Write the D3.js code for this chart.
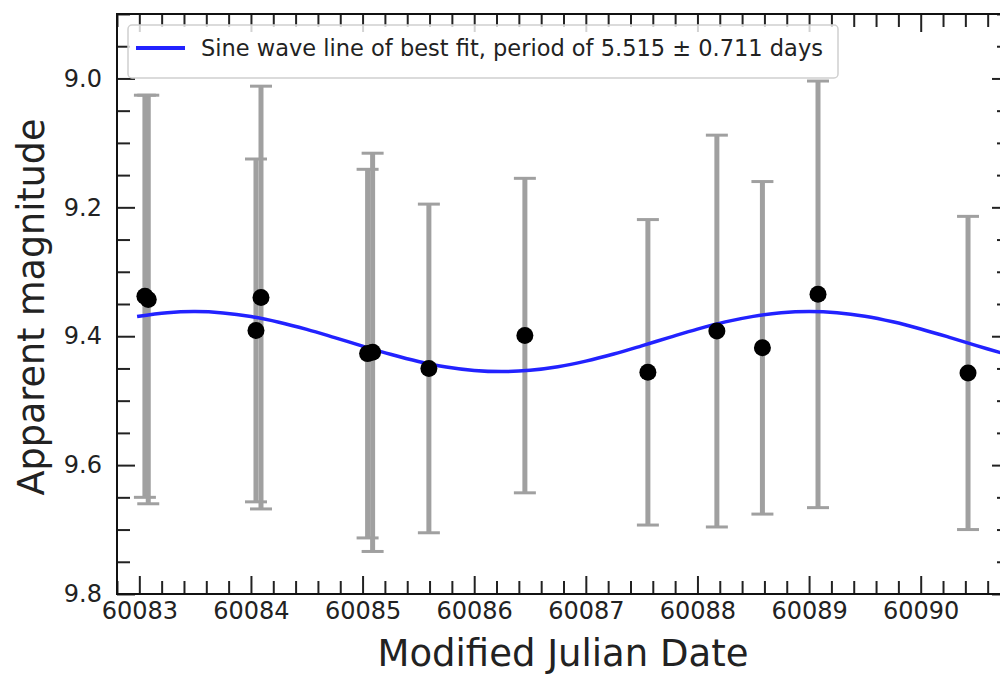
<!DOCTYPE html>
<html>
<head>
<meta charset="utf-8">
<script src="https://cdn.jsdelivr.net/npm/d3@7"></script>
<style>
  html, body { margin: 0; padding: 0; background: #fff; }
  svg { display: block; }
  text { font-family: "DejaVu Sans", sans-serif; }
</style>
</head>
<body>
<svg id="chart" width="1000" height="675"></svg>
<script>
// ---- data ----
const obsDate = [60083.050, 60083.080, 60084.045, 60084.090, 60085.045, 60085.090, 60085.594,
                 60086.454, 60087.556, 60088.174, 60088.582, 60089.080, 60090.424];
const obsMag  = [9.338, 9.343, 9.391, 9.340, 9.427, 9.425, 9.450,
                 9.399, 9.456, 9.392, 9.418, 9.335, 9.457];
const obsErr  = [0.312, 0.317, 0.266, 0.328, 0.286, 0.309, 0.255,
                 0.244, 0.237, 0.304, 0.258, 0.331, 0.243];

// best-fit sine curve
const fitDate = [60082.98, 60083.25, 60083.5, 60083.75, 60084.0, 60084.25, 60084.5, 60084.75,
                 60085.0, 60085.25, 60085.5, 60085.75, 60086.0, 60086.25, 60086.5, 60086.75,
                 60087.0, 60087.25, 60087.5, 60087.75, 60088.0, 60088.25, 60088.5, 60088.75,
                 60089.0, 60089.25, 60089.5, 60089.75, 60090.0, 60090.25, 60090.5, 60090.75];
const fitMag  = [9.3693, 9.3634, 9.3617, 9.3638, 9.3694, 9.3782, 9.3893, 9.4021,
                 9.4153, 9.4280, 9.4391, 9.4477, 9.4531, 9.4549, 9.4529, 9.4474,
                 9.4387, 9.4276, 9.4149, 9.4017, 9.3889, 9.3778, 9.3692, 9.3636,
                 9.3617, 9.3635, 9.3689, 9.3776, 9.3887, 9.4013, 9.4146, 9.4273];

const xTicks = [60083, 60084, 60085, 60086, 60087, 60088, 60089, 60090];
const yTicks = [9.0, 9.2, 9.4, 9.6, 9.8];
const xMinor = d3.range(60082.8, 60090.81, 0.2).map(v => +v.toFixed(1)).filter(v => !xTicks.includes(v));
const yMinor = d3.range(8.9, 9.801, 0.05).map(v => +v.toFixed(2)).filter(v => !yTicks.includes(v));

const legendLabel = "Sine wave line of best fit, period of 5.515 \u00B1 0.711 days";
const xTitle = "Modified Julian Date";
const yTitle = "Apparent magnitude";

// ---- layout ----
const L = 117, R = 1010, T = 14, B = 594;
const svg = d3.select("#chart");
svg.append("rect").attr("width", 1000).attr("height", 675).attr("fill", "#fff");

const x = d3.scaleLinear().domain([60082.8, 60090.8]).range([L, R]);
const y = d3.scaleLinear().domain([8.9, 9.8]).range([T, B]);

const MAJ = 18, MIN = 13, tickCol = "#222";

function styleAxis(g) {
  g.select(".domain").remove();
  g.selectAll(".tick line").attr("stroke", tickCol).attr("stroke-width", 2);
  g.selectAll(".tick text").attr("fill", "#222").style("font-size", "24px")
    .style("font-family", "'DejaVu Sans', sans-serif");
}

// bottom axis
svg.append("g").attr("transform", `translate(0,${B})`)
  .call(d3.axisBottom(x).tickValues(xTicks).tickFormat(d3.format("d")).tickSize(-MAJ).tickPadding(8))
  .call(styleAxis);
svg.append("g").attr("transform", `translate(0,${B})`)
  .call(d3.axisBottom(x).tickValues(xMinor).tickFormat("").tickSize(-MIN))
  .call(styleAxis);
// top axis
svg.append("g").attr("transform", `translate(0,${T})`)
  .call(d3.axisTop(x).tickValues(xTicks).tickFormat("").tickSize(-MAJ))
  .call(styleAxis);
svg.append("g").attr("transform", `translate(0,${T})`)
  .call(d3.axisTop(x).tickValues(xMinor).tickFormat("").tickSize(-MIN))
  .call(styleAxis);
// left axis
svg.append("g").attr("transform", `translate(${L},0)`)
  .call(d3.axisLeft(y).tickValues(yTicks).tickFormat(d3.format(".1f")).tickSize(-MAJ).tickPadding(15))
  .call(styleAxis);
svg.append("g").attr("transform", `translate(${L},0)`)
  .call(d3.axisLeft(y).tickValues(yMinor).tickFormat("").tickSize(-MIN))
  .call(styleAxis);
// right axis
svg.append("g").attr("transform", `translate(${R},0)`)
  .call(d3.axisRight(y).tickValues(yTicks).tickFormat("").tickSize(-MAJ))
  .call(styleAxis);
svg.append("g").attr("transform", `translate(${R},0)`)
  .call(d3.axisRight(y).tickValues(yMinor).tickFormat("").tickSize(-MIN))
  .call(styleAxis);

// clip
svg.append("clipPath").attr("id", "plotclip")
  .append("rect").attr("x", L).attr("y", T).attr("width", R - L).attr("height", B - T);
const plot = svg.append("g").attr("clip-path", "url(#plotclip)");

const obs = obsDate.map((d, i) => ({ d, m: obsMag[i], e: obsErr[i] }));

// error bars
const barCol = "#a0a0a0", capW = 11;
const eb = plot.append("g");
obs.forEach(o => {
  const cx = x(o.d), y0 = y(o.m - o.e), y1 = y(o.m + o.e);
  eb.append("line").attr("x1", cx).attr("x2", cx).attr("y1", y0).attr("y2", y1)
    .attr("stroke", barCol).attr("stroke-width", 5);
  [y0, y1].forEach(yy => eb.append("line").attr("x1", cx - capW).attr("x2", cx + capW)
    .attr("y1", yy).attr("y2", yy).attr("stroke", barCol).attr("stroke-width", 3));
});

// fit curve
const fit = fitDate.map((d, i) => ({ d, m: fitMag[i] }));
plot.append("path").datum(fit)
  .attr("d", d3.line().x(p => x(p.d)).y(p => y(p.m)).curve(d3.curveCatmullRom))
  .attr("fill", "none").attr("stroke", "#2222ff").attr("stroke-width", 3.5);

// points
plot.append("g").selectAll("circle").data(obs).join("circle")
  .attr("cx", o => x(o.d)).attr("cy", o => y(o.m)).attr("r", 8.5).attr("fill", "#000");

// spines
svg.append("rect").attr("x", L).attr("y", T).attr("width", R - L).attr("height", B - T)
  .attr("fill", "none").attr("stroke", "#111").attr("stroke-width", 2);

// legend
const lg = svg.append("g");
lg.append("rect").attr("x", 128).attr("y", 25).attr("width", 710).attr("height", 53).attr("rx", 4)
  .attr("fill", "#fff").attr("fill-opacity", 0.8).attr("stroke", "#d0d0d0").attr("stroke-width", 1.5);
lg.append("line").attr("x1", 136).attr("x2", 185).attr("y1", 48).attr("y2", 48)
  .attr("stroke", "#2222ff").attr("stroke-width", 4);
lg.append("text").attr("x", 201).attr("y", 56).attr("fill", "#222")
  .style("font-size", "22.5px").text(legendLabel);

// axis titles
svg.append("text").attr("x", 563).attr("y", 666).attr("text-anchor", "middle")
  .attr("fill", "#222").style("font-size", "37px").text(xTitle);
svg.append("text").attr("transform", `translate(44,${(T + B) / 2 + 3}) rotate(-90)`)
  .attr("text-anchor", "middle").attr("fill", "#222").style("font-size", "36.5px").text(yTitle);
</script>
</body>
</html>
